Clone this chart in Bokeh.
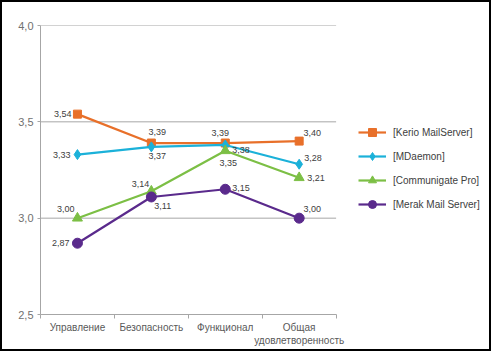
from bokeh.plotting import figure
from bokeh.models import FixedTicker, Legend, LegendItem, ColumnDataSource, Range1d
from bokeh.core.properties import value
from bokeh.embed import file_html
from bokeh.resources import INLINE

categories = ["Управление", "Безопасность", "Функционал", "Общая\nудовлетворенность"]
series_names = ["[Kerio MailServer]", "[MDaemon]", "[Communigate Pro]", "[Merak Mail Server]"]
kerio = [3.54, 3.39, 3.39, 3.40]
mdaemon = [3.33, 3.37, 3.38, 3.28]
communigate = [3.00, 3.14, 3.35, 3.21]
merak = [2.87, 3.11, 3.15, 3.00]
y_ticks = [2.5, 3.0, 3.5, 4.0]

# styling
colors = ["#E8702A", "#1BB1D9", "#7CBF45", "#5A2A8C"]
markers = ["square", "diamond", "triangle", "circle"]
msizes = [8, 10, 10, 10]
# label offsets (px) and alignment per series per point
lbl_dx = [[-6, 6, -5, 13], [-7, 6, 7, 5], [-3, -2, 3, 8], [-8, 3, 7, 13]]
lbl_dy = [[0, -11, -10, -8], [0, 9, 5, -6], [-9, -7, 12, 0], [0, 9, -1, -9]]
lbl_align = [["right", "center", "center", "center"],
             ["right", "center", "left", "left"],
             ["right", "right", "center", "left"],
             ["right", "left", "left", "center"]]

FONT = "Liberation Sans"
GRID = "#A6A6A6"
n = len(categories)
xs = [i + 0.5 for i in range(n)]

# layout (canvas px)
W, H = 491, 351
BL, BT, BR, BB = 38, 23, 2, 39
AXIS_PX = 293  # pixel length of the category axis
frame_w = (W - 4) - BL - BR
x_end = n * frame_w / AXIS_PX

p = figure(width=W, height=H, output_backend="svg", toolbar_location=None,
           x_range=Range1d(0, x_end), y_range=Range1d(2.5, 4.0),
           min_border_left=BL, min_border_top=BT, min_border_right=BR, min_border_bottom=BB,
           background_fill_color="white", border_fill_color="white",
           outline_line_color=None)
p.styles = {"border": "2px solid black"}

p.xgrid.visible = False
p.ygrid.visible = False
# horizontal grid lines spanning only the category area
grid_y = [t for t in y_ticks if t > y_ticks[0]]
p.segment(x0=[0] * len(grid_y), x1=[n] * len(grid_y), y0=grid_y, y1=grid_y,
          line_color=GRID, line_width=1)

xa = p.xaxis[0]
xa.bounds = (0, n)
xa.ticker = FixedTicker(ticks=xs, minor_ticks=list(range(n + 1)))
xa.major_label_overrides = {x: c for x, c in zip(xs, categories)}
xa.major_tick_out = 0
xa.major_tick_in = 0
xa.minor_tick_out = 4
xa.minor_tick_in = 0
xa.minor_tick_line_color = GRID
xa.axis_line_color = GRID
xa.major_label_text_font = FONT
xa.major_label_text_font_size = "10px"
xa.major_label_text_color = "#595959"
xa.major_label_standoff = 3

ya = p.yaxis[0]
ya.ticker = FixedTicker(ticks=y_ticks)
ya.major_label_overrides = {t: f"{t:.1f}".replace(".", ",") for t in y_ticks}
ya.major_tick_out = 3
ya.major_tick_in = 0
ya.minor_tick_out = 0
ya.minor_tick_in = 0
ya.major_tick_line_color = GRID
ya.axis_line_color = GRID
ya.major_label_text_font = FONT
ya.major_label_text_font_size = "11px"
ya.major_label_text_color = "#707070"
ya.major_label_standoff = 4

items = []
for i, vals in enumerate([kerio, mdaemon, communigate, merak]):
    src = ColumnDataSource(dict(x=xs, y=vals,
                                lbl=[f"{v:.2f}".replace(".", ",") for v in vals],
                                dx=lbl_dx[i], dy=lbl_dy[i], al=lbl_align[i]))
    ln = p.line("x", "y", source=src, line_color=colors[i], line_width=2.2)
    mk = p.scatter("x", "y", source=src, marker=markers[i], size=msizes[i],
                   fill_color=colors[i], line_color=colors[i])
    p.text("x", "y", text="lbl", source=src, x_offset="dx", y_offset="dy",
           text_align="al", text_baseline="middle", text_font=value(FONT),
           text_font_size="9px", text_color="#404040")
    items.append(LegendItem(label=series_names[i], renderers=[ln, mk]))

legend = Legend(items=items, location=(318, 100), padding=0, margin=0,
                glyph_width=28, glyph_height=20, spacing=4, label_standoff=7,
                label_text_font=FONT, label_text_font_size="10px",
                label_text_color="#404040", border_line_color=None,
                background_fill_alpha=0)
p.add_layout(legend)

open("out.html", "w").write(file_html(p, INLINE))
